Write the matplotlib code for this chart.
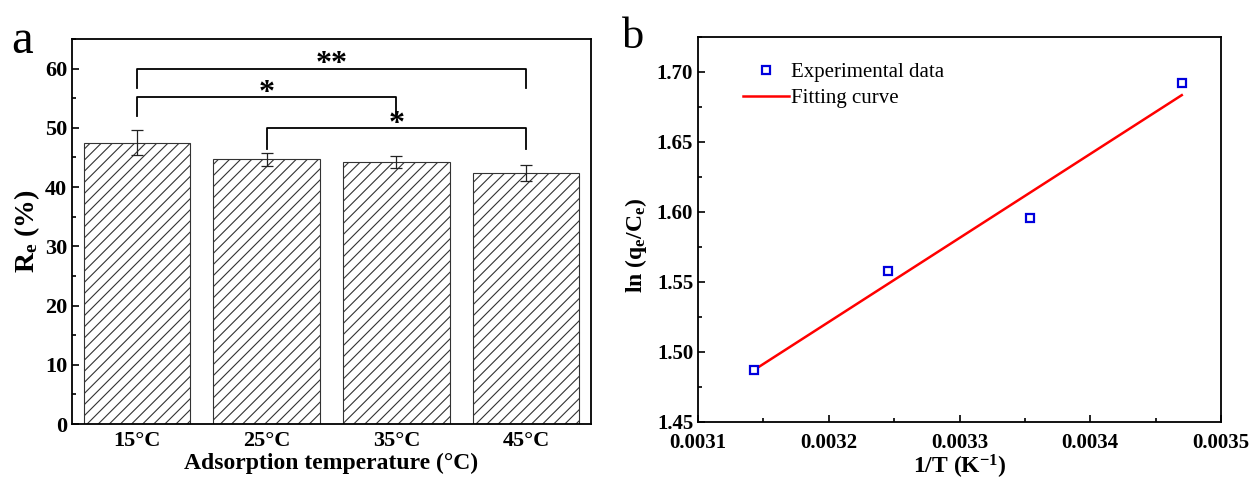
import numpy as np
import matplotlib
matplotlib.use("Agg")
import matplotlib.pyplot as plt
from matplotlib.ticker import MultipleLocator

plt.rcParams['font.family'] = ['Liberation Serif', 'DejaVu Serif']
plt.rcParams['mathtext.fontset'] = 'custom'
plt.rcParams['mathtext.rm'] = 'Liberation Serif'
plt.rcParams['mathtext.it'] = 'Liberation Serif:italic'
plt.rcParams['mathtext.bf'] = 'Liberation Serif:bold'
plt.rcParams['hatch.color'] = '#333333'
plt.rcParams['hatch.linewidth'] = 0.8

# removal efficiency at each adsorption temperature
temps = ['15°C', '25°C', '35°C', '45°C']
removal = [47.5, 44.7, 44.2, 42.4]
removal_err = [2.1, 1.1, 1.0, 1.4]

# significance brackets: (left bar, right bar, bracket height, leg bottom, label)
pairs = [(0, 3, 60.0, 56.8, '**'),
         (0, 2, 55.2, 52.0, '*'),
         (1, 3, 49.9, 46.5, '*')]

# van't Hoff data
inv_T = [0.003143, 0.003245, 0.003354, 0.003470]
ln_qc = [1.487, 1.558, 1.596, 1.692]

fig = plt.figure(figsize=(12.5, 4.79), dpi=100)
ax1 = fig.add_axes([0.0576, 0.1148, 0.4152, 0.8038])
ax2 = fig.add_axes([0.5584, 0.119, 0.4184, 0.8038])

# ---- panel a ----
x = np.arange(len(temps))
ax1.bar(x, removal, width=0.82, color='white', edgecolor='#333333',
        linewidth=0.8, hatch='///', zorder=2)
ax1.errorbar(x, removal, yerr=removal_err, fmt='none', ecolor='#222222',
             elinewidth=0.9, capsize=4, capthick=0.9, zorder=3)
for i, j, h, low, lab in pairs:
    ax1.plot([i, i, j, j], [low, h, h, low], color='black', lw=1.3, zorder=4)
    ax1.text((i + j) / 2, h - 1.8, lab, ha='center', va='bottom',
             fontsize=23, fontweight='bold')

ax1.set_xlim(-0.5, 3.5)
ax1.set_ylim(0, 65)
ax1.set_xticks(x)
ax1.set_xticklabels(temps)
ax1.yaxis.set_major_locator(MultipleLocator(10))
ax1.yaxis.set_minor_locator(MultipleLocator(5))
ax1.tick_params(axis='y', which='both', direction='in', width=1.2)
ax1.tick_params(axis='y', which='major', length=5)
ax1.tick_params(axis='y', which='minor', length=3)
ax1.tick_params(axis='x', length=0, pad=5)
ax1.set_xlabel('Adsorption temperature (°C)', fontsize=17, fontweight='bold',
               labelpad=1)
ax1.set_ylabel(r'$\mathbf{R_e}$ (%)', fontsize=20, fontweight='bold',
               labelpad=2)
ax1.text(-0.118, 0.995, 'a', transform=ax1.transAxes, fontsize=35,
         va='center', ha='left')

# ---- panel b ----
ax2.plot(inv_T, ln_qc, linestyle='none', marker='s', markersize=6,
         markerfacecolor='white', markeredgecolor='#0000dd',
         markeredgewidth=1.6, label='Experimental data', zorder=3)
slope, intercept = np.polyfit(inv_T, ln_qc, 1)
fit_x = np.array([min(inv_T), max(inv_T)])
ax2.plot(fit_x, slope * fit_x + intercept, color='#ff0000', lw=1.8,
         label='Fitting curve', zorder=2)

ax2.set_xlim(0.0031, 0.0035)
ax2.set_ylim(1.45, 1.725)
ax2.xaxis.set_major_locator(MultipleLocator(0.0001))
ax2.xaxis.set_minor_locator(MultipleLocator(0.00005))
ax2.yaxis.set_major_locator(MultipleLocator(0.05))
ax2.yaxis.set_minor_locator(MultipleLocator(0.025))
ax2.xaxis.set_major_formatter(plt.FuncFormatter(lambda v, p: f'{v:.4f}'))
ax2.yaxis.set_major_formatter(plt.FuncFormatter(lambda v, p: f'{v:.2f}'))
ax2.tick_params(which='both', direction='in', width=1.2)
ax2.tick_params(which='major', length=5)
ax2.tick_params(which='minor', length=3)
ax2.tick_params(axis='x', pad=8)
ax2.set_xlabel(r'1/T (K$^{\mathbf{-1}}$)', fontsize=17, fontweight='bold',
               labelpad=0)
ax2.set_ylabel(r'ln (q$_{\mathbf{e}}$/C$_{\mathbf{e}}$)', fontsize=17,
               fontweight='bold')
ax2.yaxis.set_label_coords(-0.093, 0.46)
ax2.legend(loc='upper left', bbox_to_anchor=(0.05, 0.982), frameon=False,
           fontsize=15, handlelength=2.2, handletextpad=0.1,
           labelspacing=0.3)
ax2.text(-0.145, 1.0, 'b', transform=ax2.transAxes, fontsize=32,
         va='center', ha='left')

for ax, size in ((ax1, 16), (ax2, 15)):
    for sp in ax.spines.values():
        sp.set_linewidth(1.3)
    for lbl in ax.get_xticklabels() + ax.get_yticklabels():
        lbl.set_fontweight('bold')
        lbl.set_fontsize(size)

fig.savefig('out.png', dpi=100)
